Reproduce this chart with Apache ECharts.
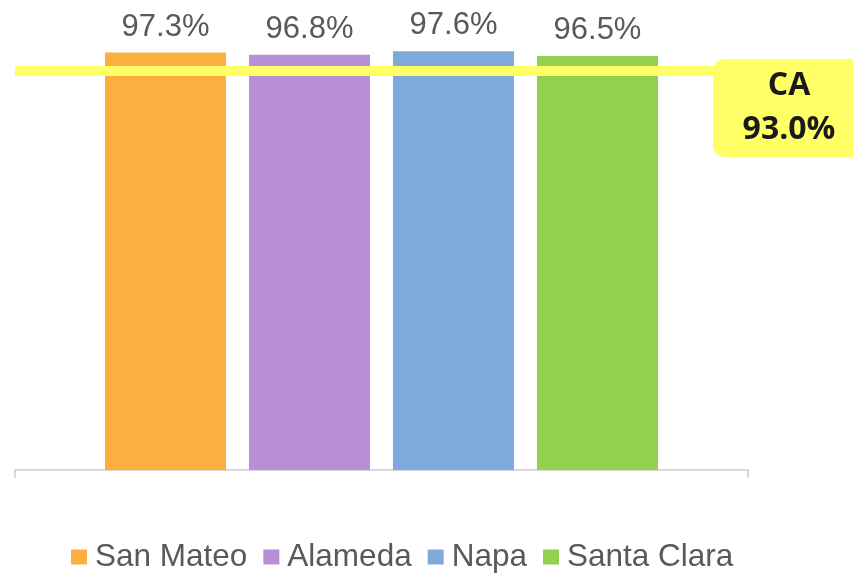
<!DOCTYPE html>
<html>
<head>
<meta charset="utf-8">
<script src="https://cdn.jsdelivr.net/npm/echarts@6/dist/echarts.min.js"></script>
<style>
  html, body { margin: 0; padding: 0; background: #fff; }
  #chart { width: 853px; height: 573px; }
</style>
</head>
<body>
<div id="chart"></div>
<script>
const counties = ["San Mateo", "Alameda", "Napa", "Santa Clara"];
const rates = [97.3, 96.8, 97.6, 96.5];
const colors = ["#fbaf41", "#b88fd6", "#80a9db", "#92d14f"];
const stateName = "CA";
const stateRate = 93.0;

const chart = echarts.init(document.getElementById("chart"));

const series = counties.map((name, i) => ({
  name: name,
  type: "bar",
  data: [rates[i]],
  barWidth: 121,
  barGap: "19%",
  itemStyle: { color: colors[i] },
  label: {
    show: true,
    position: "top",
    distance: 10,
    formatter: (p) => p.value.toFixed(1) + "%",
    color: "#595959",
    fontFamily: "Liberation Sans, Arial, sans-serif",
    fontSize: 31,
  },
  emphasis: { disabled: true },
}));

// state average line + label box
series[0].markLine = {
  silent: true,
  symbol: "none",
  z: 10,
  lineStyle: { color: "#ffff66", width: 10, type: "solid", opacity: 1 },
  emphasis: { disabled: true },
  label: {
    show: true,
    position: "insideEndBottom",
    distance: [-41, 37],
    align: "center",
    verticalAlign: "middle",
    formatter: () => stateName + "\n" + stateRate.toFixed(1) + "%",
    width: 120,
    height: 88,
    padding: [5, 16, 5, 16],
    lineHeight: 44,
    backgroundColor: "#ffff66",
    borderRadius: 12,
    color: "#1a1a1a",
    fontFamily: "Open Sans, sans-serif",
    fontWeight: "bold",
    fontSize: 32,
  },
  data: [{ yAxis: stateRate }],
};

chart.setOption({
  animation: false,
  grid: { left: 15, right: 105, top: 41, bottom: 103 },
  legend: {
    data: counties,
    left: 71,
    top: 541,
    padding: 0,
    itemWidth: 16,
    itemHeight: 15,
    itemGap: 16,
    icon: "rect",
    textStyle: {
      color: "#595959",
      fontFamily: "Liberation Sans, Arial, sans-serif",
      fontSize: 31.5,
      padding: [0, 0, 0, 3],
    },
  },
  xAxis: {
    type: "category",
    data: [""],
    axisLine: { lineStyle: { color: "#d9d9d9", width: 2 } },
    axisTick: { show: true, length: 8, lineStyle: { color: "#d9d9d9", width: 2 } },
    axisLabel: { show: false },
  },
  yAxis: {
    type: "value",
    min: 0,
    max: 100,
    show: false,
    splitLine: { show: false },
  },
  series: series,
});
</script>
</body>
</html>
